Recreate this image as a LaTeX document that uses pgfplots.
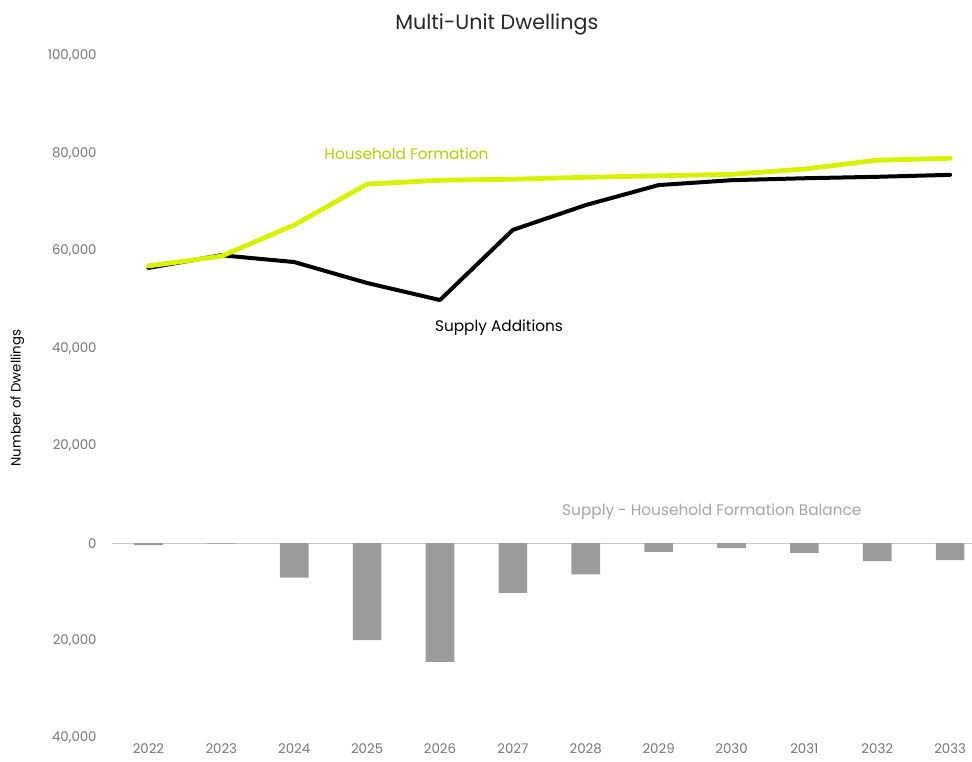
\documentclass[border=0pt]{standalone}
\usepackage{pgfplots}
\pgfplotsset{compat=1.18}
\usepackage{fontspec}
\setmainfont{Poppins}
\definecolor{limeline}{RGB}{214,242,0}
\definecolor{barcol}{RGB}{155,155,155}
\definecolor{tickcol}{RGB}{120,120,120}
\definecolor{zerocol}{RGB}{200,200,200}
\begin{document}
\begin{tikzpicture}
\path[use as bounding box] (0,0) rectangle (729pt,571.5pt);
\begin{axis}[
  at={(84pt,18pt)}, anchor=south west,
  scale only axis, width=645pt, height=511.5pt,
  xmin=-0.5, xmax=11.3, ymin=-40000, ymax=100000,
  axis line style={draw=none}, major tick length=0pt,
  scaled y ticks=false,
  xtick={0,1,2,3,4,5,6,7,8,9,10,11},
  xticklabels={2022,2023,2024,2025,2026,2027,2028,2029,2030,2031,2032,2033},
  ytick={-40000,-20000,0,20000,40000,60000,80000,100000},
  yticklabels={{40,000},{20,000},0,{20,000},{40,000},{60,000},{80,000},{100,000}},
  ticklabel style={font=\fontsize{10}{12}\selectfont, text=tickcol},
  yticklabel style={xshift=-8pt},
  xticklabel style={yshift=-1pt},
  extra y ticks={0}, extra y tick labels={},
  extra y tick style={grid=major, grid style={zerocol, line width=0.8pt}},
  clip=false,
]
\addplot[ybar, bar width=21.5pt, fill=barcol, draw=none] coordinates {
(0,-400) (1,-100) (2,-7100) (3,-19900) (4,-24400) (5,-10200) (6,-6400) (7,-1800) (8,-1000) (9,-2000) (10,-3700) (11,-3500)};
\addplot[black, line width=3pt, line join=round, line cap=round] coordinates {
(0,56500) (1,59100) (2,57700) (3,53400) (4,49900) (5,64300) (6,69400) (7,73500) (8,74500) (9,74900) (10,75200) (11,75600)};
\addplot[limeline, line width=3.6pt, line join=round, line cap=round] coordinates {
(0,56900) (1,58900) (2,65300) (3,73700) (4,74500) (5,74700) (6,75100) (7,75400) (8,75700) (9,76800) (10,78600) (11,79000)};
\node[text=limeline!85!black, font=\fontsize{11.5}{13}\selectfont] at (axis cs:3.54,80000) {Household Formation};
\node[text=black, font=\fontsize{11.5}{13}\selectfont] at (axis cs:4.81,44300) {Supply Additions};
\node[text=barcol!90!white, font=\fontsize{11.5}{13}\selectfont] at (axis cs:7.73,6400) {Supply - Household Formation Balance};
\node[text=black!85, font=\fontsize{15.5}{18}\selectfont] at (axis cs:4.78,106500) {Multi-Unit Dwellings};
\node[rotate=90, text=black, font=\fontsize{10}{12}\selectfont] at (axis cs:-1.8,29800) {Number of Dwellings};
\end{axis}
\end{tikzpicture}
\end{document}
